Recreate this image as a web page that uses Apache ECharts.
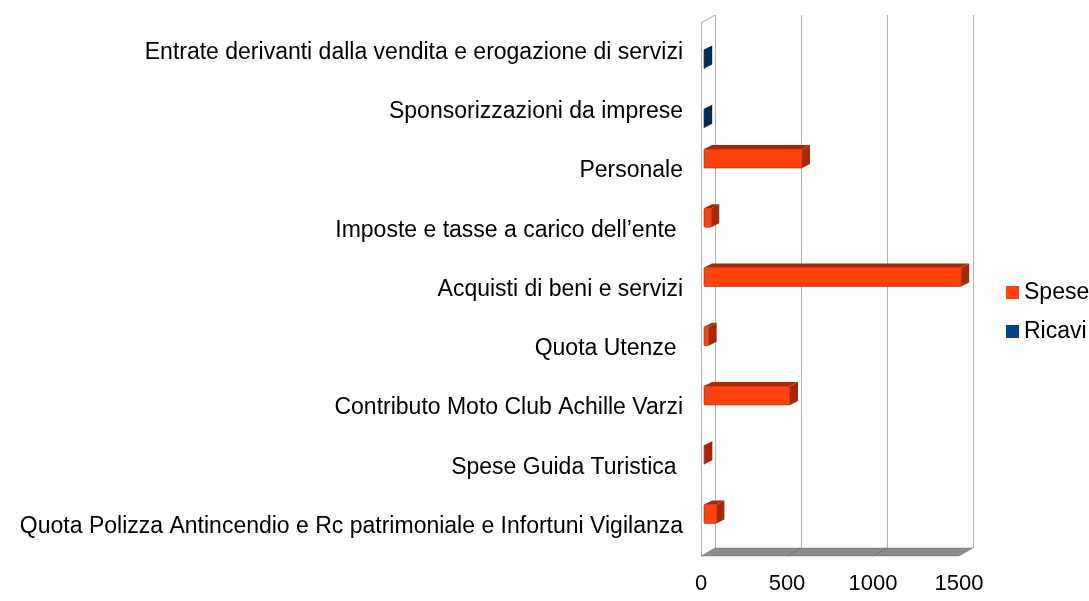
<!DOCTYPE html>
<html>
<head>
<meta charset="utf-8">
<script src="https://cdn.jsdelivr.net/npm/echarts@6/dist/echarts.min.js"></script>
<style>
  html, body { margin: 0; padding: 0; background: #fff; }
  #chart { width: 1089px; height: 601px; }
</style>
</head>
<body>
<div id="chart"></div>
<script>
// categorie (dall'alto verso il basso)
const categories = [
    'Entrate derivanti dalla vendita e erogazione di servizi',
    'Sponsorizzazioni da imprese',
    'Personale',
    'Imposte e tasse a carico dell\u2019ente ',
    'Acquisti di beni e servizi',
    'Quota Utenze ',
    'Contributo Moto Club Achille Varzi',
    'Spese Guida Turistica ',
    'Quota Polizza Antincendio e Rc patrimoniale e Infortuni Vigilanza'
];
const speseValues = [null, null, 570, 42, 1495, 27, 500, 2, 72];
const ricaviValues = [1, 1, null, null, null, null, null, null, null];
const xTicks = [0, 500, 1000, 1500];

const FONT = "'Liberation Sans', Arial, sans-serif";
const DX = 8, DY = -4;        // profondità barre
const WX = 14, WY = -8;       // profondità pareti

const chart = echarts.init(document.getElementById('chart'));

// barra 3D
function bar3d(front, dark, upper) {
    return function (params, api) {
        const v = api.value(0);
        const c = api.value(1);
        const p0 = api.coord([0, c]);
        const p1 = api.coord([v, c]);
        const band = api.size([0, 1])[1];
        const h = band * 0.32;
        const split = p0[1] - 3;
        const y0 = upper ? split - h : split;
        const y1 = y0 + h;
        const x0 = p0[0] + 3;
        const x1 = p1[0] + 3;
        return {
            type: 'group',
            children: [
                {
                    type: 'polygon',
                    shape: { points: [[x0, y0], [x1, y0], [x1 + DX, y0 + DY], [x0 + DX, y0 + DY]] },
                    style: { fill: dark }
                },
                {
                    type: 'polygon',
                    shape: { points: [[x1, y0], [x1 + DX, y0 + DY], [x1 + DX, y1 + DY], [x1, y1]] },
                    style: { fill: dark }
                },
                {
                    type: 'rect',
                    shape: { x: x0, y: y0, width: Math.max(x1 - x0, 0.5), height: h, r: 1 },
                    style: { fill: front, stroke: dark, lineWidth: 0.6 }
                }
            ]
        };
    };
}

// pavimento e parete sinistra
function floorItem(params, api) {
    const n = categories.length;
    const band = api.size([0, 1])[1];
    const yb = api.coord([0, n - 1])[1] + band / 2;
    const yt = api.coord([0, 0])[1] - band / 2;
    const xl = api.coord([0, 0])[0];
    const xr = api.coord([xTicks[xTicks.length - 1], 0])[0];
    const children = [
        {
            type: 'polygon',
            shape: { points: [[xl, yb], [xr, yb], [xr + WX, yb + WY], [xl + WX, yb + WY]] },
            style: { fill: '#8c8c8c', stroke: '#7a7a7a', lineWidth: 0.5 }
        },
        {
            type: 'line',
            shape: { x1: xl, y1: yt, x2: xl + WX, y2: yt + WY },
            style: { stroke: '#b3b3b3', lineWidth: 1 }
        }
    ];
    xTicks.slice(1, -1).forEach(function (t) {
        const x = api.coord([t, 0])[0];
        children.push({
            type: 'line',
            shape: { x1: x, y1: yb, x2: x + WX, y2: yb + WY },
            style: { stroke: '#777777', lineWidth: 1 }
        });
    });
    return { type: 'group', children: children };
}

const speseData = [];
const ricaviData = [];
categories.forEach(function (c, i) {
    if (speseValues[i] != null) speseData.push([speseValues[i], i]);
    if (ricaviValues[i] != null) ricaviData.push([ricaviValues[i], i]);
});

chart.setOption({
    animation: false,
    textStyle: { fontFamily: FONT },
    legend: {
        data: ['Spese', 'Ricavi'],
        orient: 'vertical',
        left: 1001,
        top: 276,
        icon: 'rect',
        itemWidth: 13,
        itemHeight: 13,
        itemGap: 16,
        textStyle: { fontSize: 23, color: '#000', fontFamily: FONT }
    },
    grid: [
        { left: 701, right: 130, top: 23, bottom: 45, containLabel: false, outerBoundsMode: 'none' },
        { left: 715, right: 116, top: 15, bottom: 53, containLabel: false, outerBoundsMode: 'none' }
    ],
    xAxis: [
        {
            type: 'value', gridIndex: 0, min: 0, max: 1500, interval: 500,
            axisLine: { show: false }, axisTick: { show: false },
            splitLine: { show: false },
            axisLabel: {
                fontSize: 22, color: '#000', margin: 17, fontFamily: FONT,
                formatter: function (v) { return String(v); }
            }
        },
        {
            type: 'value', gridIndex: 1, min: 0, max: 1500, interval: 500,
            axisLine: { show: false }, axisTick: { show: false },
            axisLabel: { show: false },
            splitLine: { show: true, lineStyle: { color: '#b3b3b3', width: 1 } }
        }
    ],
    yAxis: [
        {
            type: 'category', gridIndex: 0, data: categories, inverse: true,
            axisLine: { show: true, lineStyle: { color: '#b3b3b3' } },
            axisTick: { show: false },
            axisLabel: { fontSize: 23, color: '#000', margin: 18, fontFamily: FONT }
        },
        {
            type: 'category', gridIndex: 1, data: categories, inverse: true, show: false
        }
    ],
    series: [
        {
            name: 'floor', type: 'custom', xAxisIndex: 0, yAxisIndex: 0,
            data: [[0, 0]], renderItem: floorItem, silent: true, z: 1
        },
        {
            name: 'Spese', type: 'custom', xAxisIndex: 0, yAxisIndex: 0,
            itemStyle: { color: '#ff420e' },
            data: speseData, renderItem: bar3d('#ff420e', '#a8290a', true), z: 3
        },
        {
            name: 'Ricavi', type: 'custom', xAxisIndex: 0, yAxisIndex: 0,
            itemStyle: { color: '#004586' },
            data: ricaviData, renderItem: bar3d('#004586', '#002b55', false), z: 3
        }
    ]
});
</script>
</body>
</html>
